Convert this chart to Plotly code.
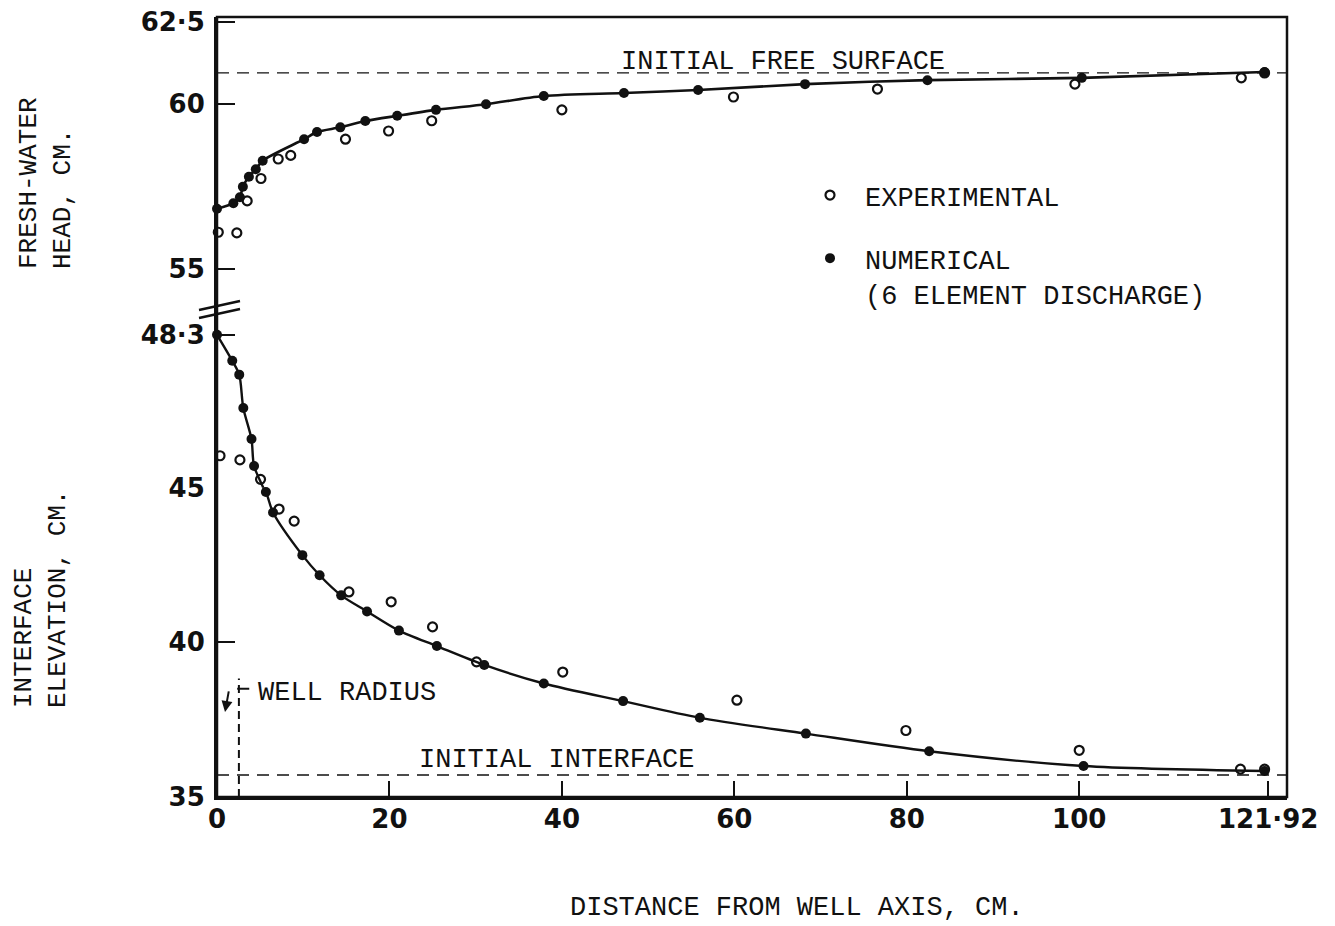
import plotly.graph_objects as go

# ---------------- data ----------------
# Fresh-water head (upper panel)
x_head_exp = [0.15, 2.3, 3.5, 5.1, 7.1, 8.55, 14.9, 19.9, 24.9, 40.0, 59.9, 76.6, 99.5, 118.8, 121.5]
head_exp = [56.12, 56.1, 57.07, 57.75, 58.34, 58.45, 58.94, 59.19, 59.5, 59.83, 60.22, 60.46, 60.61, 60.8, 60.95]

x_head_num = [0, 1.9, 2.66, 3.0, 3.7, 4.5, 5.3, 10.1, 11.6, 14.3, 17.2, 20.9, 25.4, 31.2, 37.9,
              47.2, 55.8, 68.2, 82.4, 100.3, 121.5]
head_num = [56.83, 57.0, 57.18, 57.5, 57.8, 58.03, 58.29, 58.94, 59.16, 59.3, 59.49, 59.65, 59.83,
            60.0, 60.25, 60.34, 60.43, 60.61, 60.73, 60.8, 60.98]

# Interface elevation (lower panel)
x_int_exp = [0.35, 2.66, 5.05, 7.2, 8.95, 15.3, 20.2, 25.0, 30.1, 40.1, 60.3, 79.9, 100.0, 118.7, 121.5]
int_exp = [45.69, 45.6, 45.18, 44.31, 43.92, 41.63, 41.31, 40.5, 39.37, 39.04, 38.13, 37.15, 36.51, 35.9, 35.9]

x_int_num = [0, 1.77, 2.58, 3.05, 4.0, 4.3, 5.67, 6.5, 9.9, 11.9, 14.4, 17.4, 21.1, 25.5, 31.0, 37.9,
             47.1, 56.0, 68.3, 82.6, 100.5, 121.5]
int_num = [48.3, 47.74, 47.44, 46.72, 46.05, 45.47, 44.86, 44.2, 42.82, 42.17, 41.52, 41.0, 40.38,
           39.88, 39.27, 38.67, 38.1, 37.56, 37.05, 36.48, 36.0, 35.84]

initial_free_surface = 60.95
initial_interface = 35.71
well_radius = 2.54
well_line_top = 38.83

x_tickvals = [0, 20, 40, 60, 80, 100, 121.92]
x_ticktext = ["0", "20", "40", "60", "80", "100", "121·92"]
y_up_tickvals = [55, 60, 62.5]
y_up_ticktext = ["55", "60", "62·5"]
y_mid_tickvals = [48.3]
y_mid_ticktext = ["48·3"]
y_low_tickvals = [35, 40, 45]
y_low_ticktext = ["35", "40", "45"]
split_value = 45  # the lower axis changes scale at 45

# ---------------- layout geometry ----------------
W, H = 1335, 926
OFF = 8  # page body offset seen in the screenshot
ML, MR, MT, MB = 217 - OFF, 48 + OFF, 17 - OFF, 129 + OFF
PH = H - MT - MB
PW = W - ML - MR


def py(pix):  # screenshot pixel row -> paper y
    return (H - MB - (pix - OFF)) / PH


def px(pix):  # screenshot pixel column -> paper x
    return (pix - OFF - ML) / PW


dom_low_top = py(487.7)
dom_mid_top = py(320)

TYPE = "Liberation Mono, Courier New, monospace"
BOLD = "DejaVu Sans, Arial, sans-serif"
INK = "#111111"

fig = go.Figure()

exp_marker = dict(symbol="circle-open", size=9, color=INK, line=dict(width=2.2, color=INK))
num_marker = dict(symbol="circle", size=10, color=INK)

fig.add_trace(go.Scatter(x=x_head_exp, y=head_exp, mode="markers", marker=exp_marker,
                         name="EXPERIMENTAL", legendgroup="exp", xaxis="x", yaxis="y",
                         cliponaxis=False))
fig.add_trace(go.Scatter(x=x_head_num, y=head_num, mode="lines",
                         line=dict(color=INK, width=2.6, shape="spline", smoothing=0.8),
                         legendgroup="num", xaxis="x", yaxis="y", showlegend=False,
                         hoverinfo="skip"))
fig.add_trace(go.Scatter(x=x_head_num, y=head_num, mode="markers", marker=num_marker,
                         name="NUMERICAL<br>(6 ELEMENT DISCHARGE)", legendgroup="num",
                         xaxis="x", yaxis="y", cliponaxis=False))

# interface curve on both lower axes (each clipped to its own range)
for ax in ["y3", "y2"]:
    fig.add_trace(go.Scatter(x=x_int_num, y=int_num, mode="lines",
                             line=dict(color=INK, width=2.4, shape="spline", smoothing=0.8),
                             xaxis="x", yaxis=ax, showlegend=False, hoverinfo="skip"))

# interface markers, split by the axis they belong to
for xs, ys, mk, grp in [(x_int_exp, int_exp, exp_marker, "exp"), (x_int_num, int_num, num_marker, "num")]:
    hi = [(a, b) for a, b in zip(xs, ys) if b > split_value]
    lo = [(a, b) for a, b in zip(xs, ys) if b <= split_value]
    fig.add_trace(go.Scatter(x=[a for a, _ in hi], y=[b for _, b in hi], mode="markers", marker=mk,
                             xaxis="x", yaxis="y3", showlegend=False, cliponaxis=False, legendgroup=grp))
    fig.add_trace(go.Scatter(x=[a for a, _ in lo], y=[b for _, b in lo], mode="markers", marker=mk,
                             xaxis="x", yaxis="y2", showlegend=False, cliponaxis=False, legendgroup=grp))

tickfont = dict(family=BOLD, size=26, color=INK, weight="bold")
common_y = dict(showgrid=False, zeroline=False, showline=True, linewidth=3, linecolor=INK,
                ticks="inside", ticklen=18, tickwidth=2, tickcolor=INK, tickfont=tickfont,
                anchor="x", ticklabelstandoff=4, automargin=False, ticklabeloverflow="allow")

fig.update_layout(
    width=W, height=H,
    margin=dict(l=ML, r=MR, t=MT, b=MB, autoexpand=False),
    paper_bgcolor="white", plot_bgcolor="white",
    xaxis=dict(range=[0, 124.1], domain=[0, 1], anchor="y2", showgrid=False, zeroline=False,
               showline=True, linewidth=2.5, linecolor=INK, ticks="inside", ticklen=16,
               tickwidth=2, tickcolor=INK, tickvals=x_tickvals, ticktext=x_ticktext,
               tickfont=tickfont, ticklabelstandoff=-3, automargin=False,
               ticklabeloverflow="allow"),
    yaxis=dict(domain=[dom_mid_top, 1], range=[53.46, 62.645], tickvals=y_up_tickvals,
               ticktext=y_up_ticktext, **common_y),
    yaxis3=dict(domain=[dom_low_top, dom_mid_top], range=[45, 48.62], tickvals=y_mid_tickvals,
                ticktext=y_mid_ticktext, **common_y),
    yaxis2=dict(domain=[0, dom_low_top], range=[35, 45], tickvals=y_low_tickvals,
                ticktext=y_low_ticktext, **common_y),
    showlegend=True,
    legend=dict(x=px(795), y=py(171), xanchor="left", yanchor="top",
                font=dict(family=TYPE, size=27, color=INK), bgcolor="rgba(0,0,0,0)",
                tracegroupgap=25, itemwidth=60, valign="top", itemclick=False),
)

dash = "12px,8px"
shapes = [
    dict(type="rect", xref="paper", yref="paper", x0=0, x1=1, y0=0, y1=1,
         line=dict(color=INK, width=2.5)),
    dict(type="line", xref="x domain", yref="y", x0=0, x1=1, y0=initial_free_surface,
         y1=initial_free_surface, line=dict(color=INK, width=1.4, dash=dash)),
    dict(type="line", xref="x domain", yref="y2", x0=0, x1=1, y0=initial_interface,
         y1=initial_interface, line=dict(color=INK, width=1.4, dash=dash)),
    dict(type="line", xref="x", yref="y2", x0=well_radius, x1=well_radius, y0=35,
         y1=well_line_top, line=dict(color=INK, width=2, dash="8px,5px")),
    dict(type="line", xref="x", yref="y2", x0=well_radius - 0.2, x1=well_radius + 1.2,
         y0=38.5, y1=38.5, line=dict(color=INK, width=2)),
    dict(type="line", xref="paper", yref="paper", x0=px(199), x1=px(240), y0=py(310), y1=py(301),
         line=dict(color=INK, width=2.5)),
    dict(type="line", xref="paper", yref="paper", x0=px(199), x1=px(240), y0=py(318), y1=py(309),
         line=dict(color=INK, width=2.5)),
]
fig.update_layout(shapes=shapes)

txt = dict(family=TYPE, size=27, color=INK)
ann = [
    dict(x=65.7, y=61.28, xref="x", yref="y", text="INITIAL FREE SURFACE", showarrow=False,
         font=txt, xanchor="center", yanchor="middle"),
    dict(x=39.4, y=36.2, xref="x", yref="y2", text="INITIAL INTERFACE", showarrow=False, font=txt,
         xanchor="center", yanchor="middle"),
    dict(x=4.5, y=38.35, xref="x", yref="y2", text="WELL RADIUS", showarrow=False, font=txt,
         xanchor="left", yanchor="middle"),
    dict(x=0.93, y=37.75, xref="x", yref="y2", text="", showarrow=True, ax=4, ay=-22,
         arrowhead=2, arrowsize=1.1, arrowwidth=2, arrowcolor=INK),
    dict(x=px(797), y=py(908), xref="paper", yref="paper", text="DISTANCE FROM WELL AXIS, CM.",
         showarrow=False, font=txt, xanchor="center", yanchor="middle"),
    dict(x=px(46), y=py(183), xref="paper", yref="paper", text="FRESH-WATER<br>HEAD, CM.",
         showarrow=False, font=dict(family=TYPE, size=26, color=INK), textangle=-90, align="left",
         xanchor="center", yanchor="middle"),
    dict(x=px(41), y=py(599), xref="paper", yref="paper", text="INTERFACE<br>ELEVATION, CM.",
         showarrow=False, font=dict(family=TYPE, size=26, color=INK), textangle=-90, align="left",
         xanchor="center", yanchor="middle"),
]
fig.update_layout(annotations=ann)

fig.write_html("out.html")
